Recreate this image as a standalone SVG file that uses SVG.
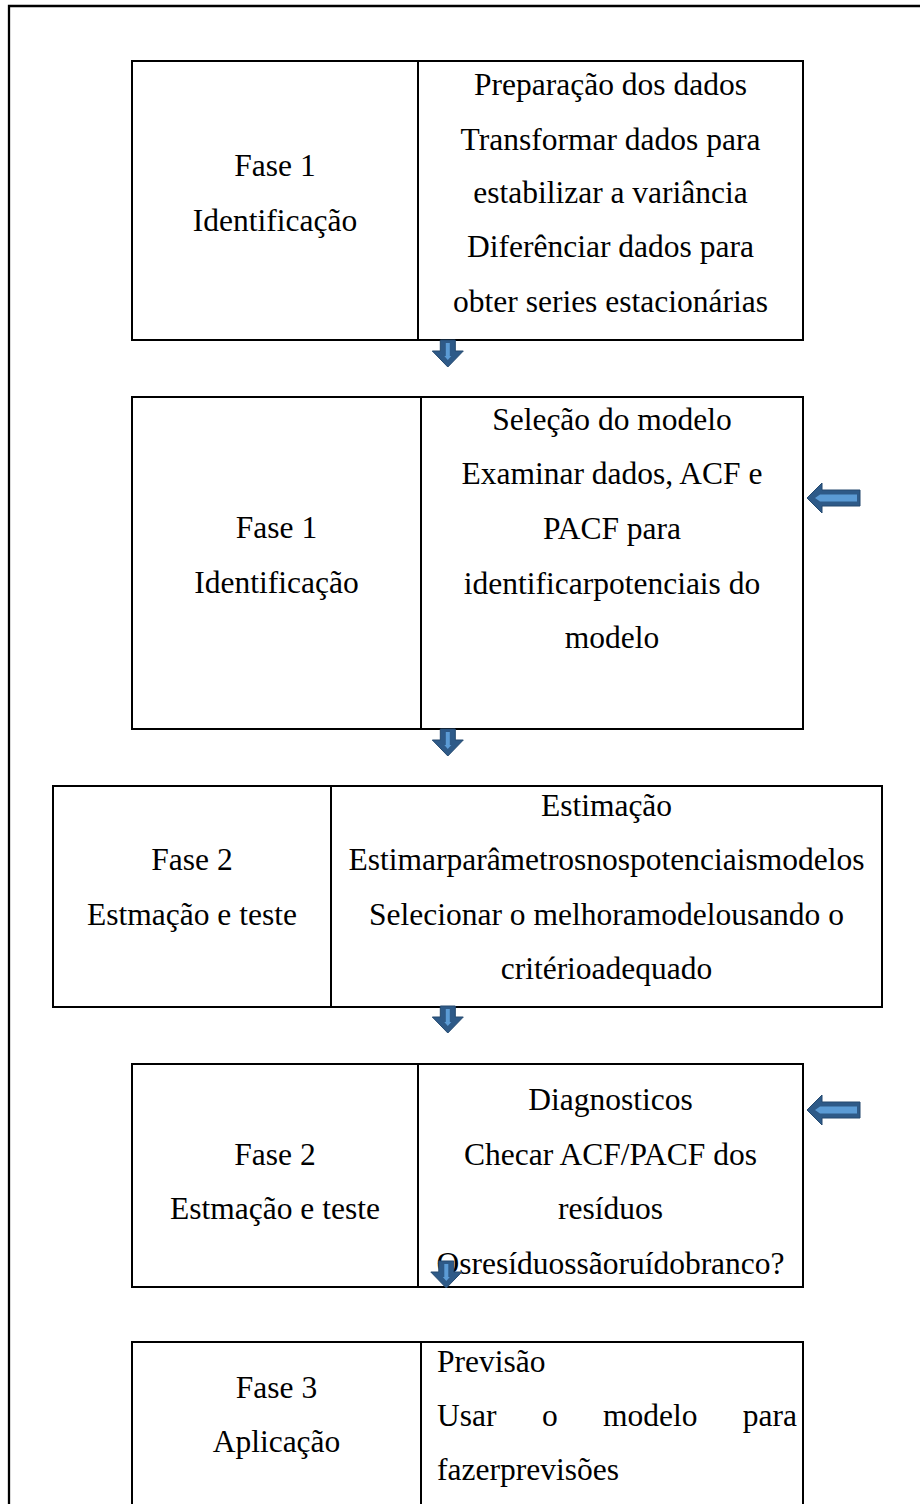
<svg xmlns="http://www.w3.org/2000/svg" width="920" height="1504" viewBox="0 0 920 1504">
<style>
.box{fill:none;stroke:#000;stroke-width:2}
.t{font-family:"Liberation Serif","Times New Roman",serif;font-size:31.5px;fill:#000}
.c{text-anchor:middle}
.ao{fill:#2E5A88;stroke:#24496F;stroke-width:1}
.ai{fill:#5B9BD5}
</style>
<defs>
<g id="down">
<path class="ao" d="M-7.5,0 H7.5 V11 H15.5 L0,27 L-15.5,11 H-7.5 Z"/>
<path class="ai" d="M-2,3 H2 V16 H3.5 L0,20 L-3.5,16 H-2 Z"/>
</g>
<g id="left">
<path class="ao" d="M0,0 L15,-15 V-8 H53 V8 H15 V15 Z"/>
<path class="ai" d="M8,0 L13,-3.5 H50 V3.5 H13 Z"/>
</g>
</defs>
<path d="M9,1504 V6 H920" fill="none" stroke="#000" stroke-width="2.3"/>

<g id="node1">
<rect class="box" x="132" y="61" width="671" height="279"/>
<line class="box" x1="418" y1="61" x2="418" y2="340"/>
<text class="t c" x="275" y="176">Fase 1</text>
<text class="t c" x="275" y="231">Identificação</text>
<text class="t c" x="610.5" y="95">Preparação dos dados</text>
<text class="t c" x="610.5" y="150">Transformar dados para</text>
<text class="t c" x="610.5" y="203">estabilizar a variância</text>
<text class="t c" x="610.5" y="257">Diferênciar dados para</text>
<text class="t c" x="610.5" y="312">obter series estacionárias</text>
</g>

<g id="node2">
<rect class="box" x="132" y="397" width="671" height="332"/>
<line class="box" x1="421" y1="397" x2="421" y2="729"/>
<text class="t c" x="276.5" y="538">Fase 1</text>
<text class="t c" x="276.5" y="593">Identificação</text>
<text class="t c" x="612" y="430">Seleção do modelo</text>
<text class="t c" x="612" y="484">Examinar dados, ACF e</text>
<text class="t c" x="612" y="539">PACF para</text>
<text class="t c" x="612" y="594">identificarpotenciais do</text>
<text class="t c" x="612" y="648">modelo</text>
</g>

<g id="node3">
<rect class="box" x="53" y="786" width="829" height="221"/>
<line class="box" x1="331" y1="786" x2="331" y2="1007"/>
<text class="t c" x="192" y="870">Fase 2</text>
<text class="t c" x="192" y="925">Estmação e teste</text>
<text class="t c" x="606.5" y="816">Estimação</text>
<text class="t c" x="606.5" y="870">Estimarparâmetrosnospotenciaismodelos</text>
<text class="t c" x="606.5" y="925">Selecionar o melhoramodelousando o</text>
<text class="t c" x="606.5" y="979">critérioadequado</text>
</g>

<g id="node4">
<rect class="box" x="132" y="1064" width="671" height="223"/>
<line class="box" x1="418" y1="1064" x2="418" y2="1287"/>
<text class="t c" x="275" y="1165">Fase 2</text>
<text class="t c" x="275" y="1219">Estmação e teste</text>
<text class="t c" x="610.5" y="1110">Diagnosticos</text>
<text class="t c" x="610.5" y="1165">Checar ACF/PACF dos</text>
<text class="t c" x="610.5" y="1219">resíduos</text>
<text class="t c" x="610.5" y="1274">Osresíduossãoruídobranco?</text>
</g>

<g id="node5">
<path class="box" d="M132,1510 V1342 H803 V1510"/>
<line class="box" x1="421" y1="1342" x2="421" y2="1510"/>
<text class="t c" x="276.5" y="1398">Fase 3</text>
<text class="t c" x="276.5" y="1452">Aplicação</text>
<text class="t" x="437" y="1372">Previsão</text>
<text class="t" x="437" y="1426">Usar</text>
<text class="t" x="542" y="1426">o</text>
<text class="t" x="603" y="1426">modelo</text>
<text class="t" x="797" y="1426" text-anchor="end">para</text>
<text class="t" x="437" y="1480">fazerprevisões</text>
</g>

<g id="connectors">
<use href="#down" x="447.8" y="340"/>
<use href="#down" x="447.8" y="729"/>
<use href="#down" x="447.8" y="1006"/>
<use href="#down" x="446.3" y="1261"/>
<use href="#left" x="807" y="498"/>
<use href="#left" x="807" y="1110"/>
</g>
</svg>
